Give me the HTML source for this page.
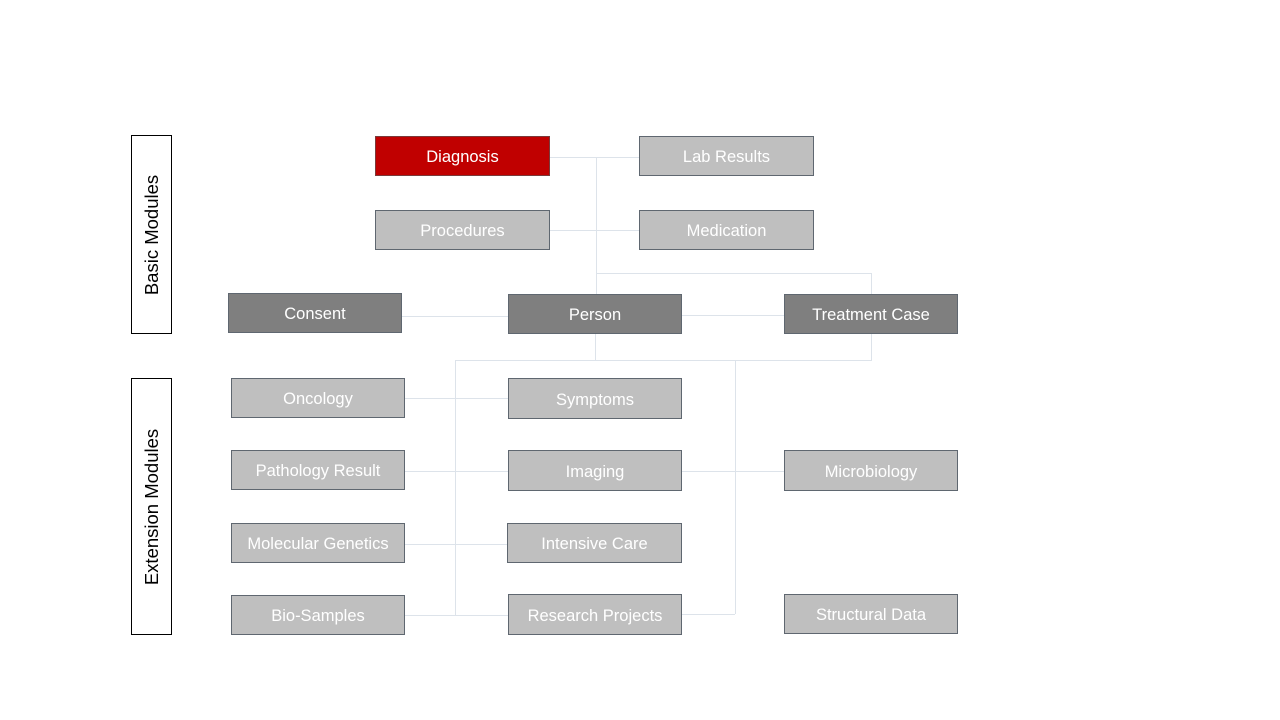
<!DOCTYPE html>
<html><head><meta charset="utf-8"><style>
body{margin:0;width:1280px;height:720px;background:#fff;position:relative;overflow:hidden;font-family:"Liberation Sans",sans-serif}
.b{position:absolute;box-sizing:border-box;border:1px solid #5f6770;color:#fff;font-size:16.5px;display:flex;align-items:center;justify-content:center;background:#bfbfbf;white-space:nowrap;padding-top:3px}
.d{background:#7f7f7f}.r{background:#c00000;border-color:#7a3a3a}
.l{position:absolute;background:#dde3ea}
.s{position:absolute;box-sizing:border-box;border:1px solid #000;background:#fff}
.s span{position:absolute;left:50%;top:50%;transform:translate(-50%,-50%) rotate(-90deg);white-space:nowrap;font-size:18.5px;color:#000}
</style></head><body>
<div class="s" style="left:131px;top:135px;width:41px;height:199px"><span>Basic Modules</span></div>
<div class="s" style="left:131px;top:378px;width:41px;height:257px"><span>Extension Modules</span></div>

<div class="l" style="left:596px;top:157px;width:1px;height:137px"></div>
<div class="l" style="left:550px;top:157px;width:89px;height:1px"></div>
<div class="l" style="left:550px;top:230px;width:89px;height:1px"></div>
<div class="l" style="left:596px;top:273px;width:276px;height:1px"></div>
<div class="l" style="left:871px;top:273px;width:1px;height:21px"></div>
<div class="l" style="left:402px;top:316px;width:106px;height:1px"></div>
<div class="l" style="left:682px;top:315px;width:102px;height:1px"></div>
<div class="l" style="left:595px;top:334px;width:1px;height:26px"></div>
<div class="l" style="left:871px;top:334px;width:1px;height:26px"></div>
<div class="l" style="left:455px;top:360px;width:417px;height:1px"></div>
<div class="l" style="left:455px;top:360px;width:1px;height:255px"></div>
<div class="l" style="left:735px;top:360px;width:1px;height:254px"></div>
<div class="l" style="left:405px;top:398px;width:103px;height:1px"></div>
<div class="l" style="left:405px;top:471px;width:103px;height:1px"></div>
<div class="l" style="left:405px;top:544px;width:102px;height:1px"></div>
<div class="l" style="left:405px;top:615px;width:103px;height:1px"></div>
<div class="l" style="left:682px;top:471px;width:102px;height:1px"></div>
<div class="l" style="left:682px;top:614px;width:53px;height:1px"></div>

<div class="b r" style="left:375px;top:136px;width:175px;height:40px">Diagnosis</div>
<div class="b" style="left:639px;top:136px;width:175px;height:40px">Lab Results</div>
<div class="b" style="left:375px;top:210px;width:175px;height:40px">Procedures</div>
<div class="b" style="left:639px;top:210px;width:175px;height:40px">Medication</div>
<div class="b d" style="left:228px;top:293px;width:174px;height:40px">Consent</div>
<div class="b d" style="left:508px;top:294px;width:174px;height:40px">Person</div>
<div class="b d" style="left:784px;top:294px;width:174px;height:40px">Treatment Case</div>
<div class="b" style="left:231px;top:378px;width:174px;height:40px">Oncology</div>
<div class="b" style="left:508px;top:378px;width:174px;height:41px">Symptoms</div>
<div class="b" style="left:231px;top:450px;width:174px;height:40px">Pathology Result</div>
<div class="b" style="left:508px;top:450px;width:174px;height:41px">Imaging</div>
<div class="b" style="left:784px;top:450px;width:174px;height:41px">Microbiology</div>
<div class="b" style="left:231px;top:523px;width:174px;height:40px">Molecular Genetics</div>
<div class="b" style="left:507px;top:523px;width:175px;height:40px">Intensive Care</div>
<div class="b" style="left:231px;top:595px;width:174px;height:40px">Bio-Samples</div>
<div class="b" style="left:508px;top:594px;width:174px;height:41px">Research Projects</div>
<div class="b" style="left:784px;top:594px;width:174px;height:40px">Structural Data</div>
</body></html>
